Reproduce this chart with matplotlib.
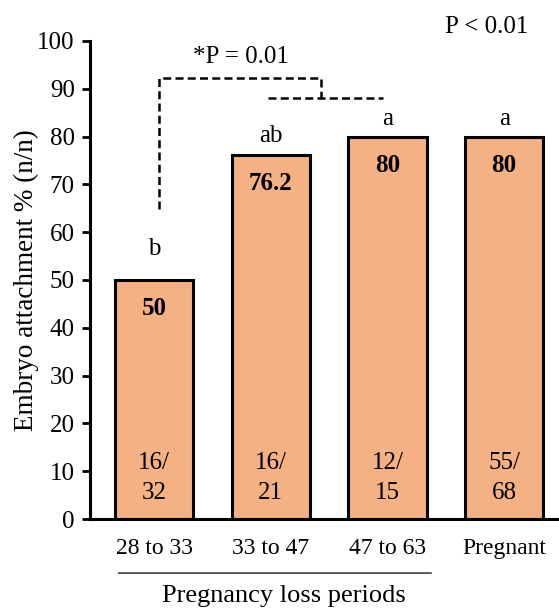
import matplotlib.pyplot as plt
import numpy as np

plt.rcParams['font.family'] = ['Liberation Serif', 'DejaVu Serif']

categories = ['28 to 33', '33 to 47', '47 to 63', 'Pregnant']
attachment = [50, 76.2, 80, 80]
value_labels = ['50', '76.2', '80', '80']
counts = ['16/\n32', '16/\n21', '12/\n15', '55/\n68']
letters = ['b', 'ab', 'a', 'a']


def main():
    fig = plt.figure(figsize=(5.59, 6.13), dpi=100)
    ax = fig.add_axes([0.161, 0.1533, 0.839, 0.78])
    x = np.arange(len(categories))

    ax.bar(x, attachment, width=0.67, color='#F4B183', edgecolor='black', linewidth=2.2)

    ax.set_xlim(-0.55, 3.47)
    ax.set_ylim(0, 100)
    ax.set_yticks(range(0, 101, 10))
    ax.set_xticks(x)
    ax.set_xticklabels(categories, fontsize=17)
    ax.tick_params(axis='x', length=0, pad=14)
    ax.tick_params(axis='y', labelsize=18, width=2, length=6, direction='out', pad=5)
    for side in ['top', 'right']:
        ax.spines[side].set_visible(False)
    ax.spines['left'].set_linewidth(2.2)
    ax.spines['bottom'].set_linewidth(2.2)
    ax.set_ylabel('Embryo attachment % (n/n)', fontsize=19.5, labelpad=-1)

    # bar value, counts and significance letters
    for i, v in enumerate(attachment):
        ax.text(i, v - 6, value_labels[i], ha='center', va='center', fontsize=18, fontweight='bold')
        ax.text(i, 8.6, counts[i], ha='center', va='center', fontsize=18, linespacing=1.45)
    letter_y = [56.5, 80.2, 83.6, 83.6]
    for i, l in enumerate(letters):
        ax.text(i, letter_y[i], l, ha='center', va='center', fontsize=18)

    # dashed comparison bracket
    dash = dict(color='black', linestyle=(0, (3.2, 1.7)), linewidth=1.8, clip_on=False)
    ax.plot([0.04, 0.04, 1.43, 1.43], [64.9, 92.2, 92.2, 88], **dash)
    ax.plot([0.98, 1.96], [88, 88], **dash)
    ax.text(0.74, 96.7, '*P = 0.01', ha='center', va='center', fontsize=18)
    ax.text(2.85, 103, 'P < 0.01', ha='center', va='center', fontsize=18, clip_on=False)

    # group line under the loss periods
    ax.annotate('', xy=(-0.33, -11.3), xytext=(2.4, -11.3), xycoords='data',
                arrowprops=dict(arrowstyle='-', color='black', linewidth=0.9), annotation_clip=False)
    ax.text(1.11, -16.2, 'Pregnancy loss periods', ha='center', va='center', fontsize=19, clip_on=False)

    fig.savefig('out.png', dpi=100)


if __name__ == "__main__":
    main()
